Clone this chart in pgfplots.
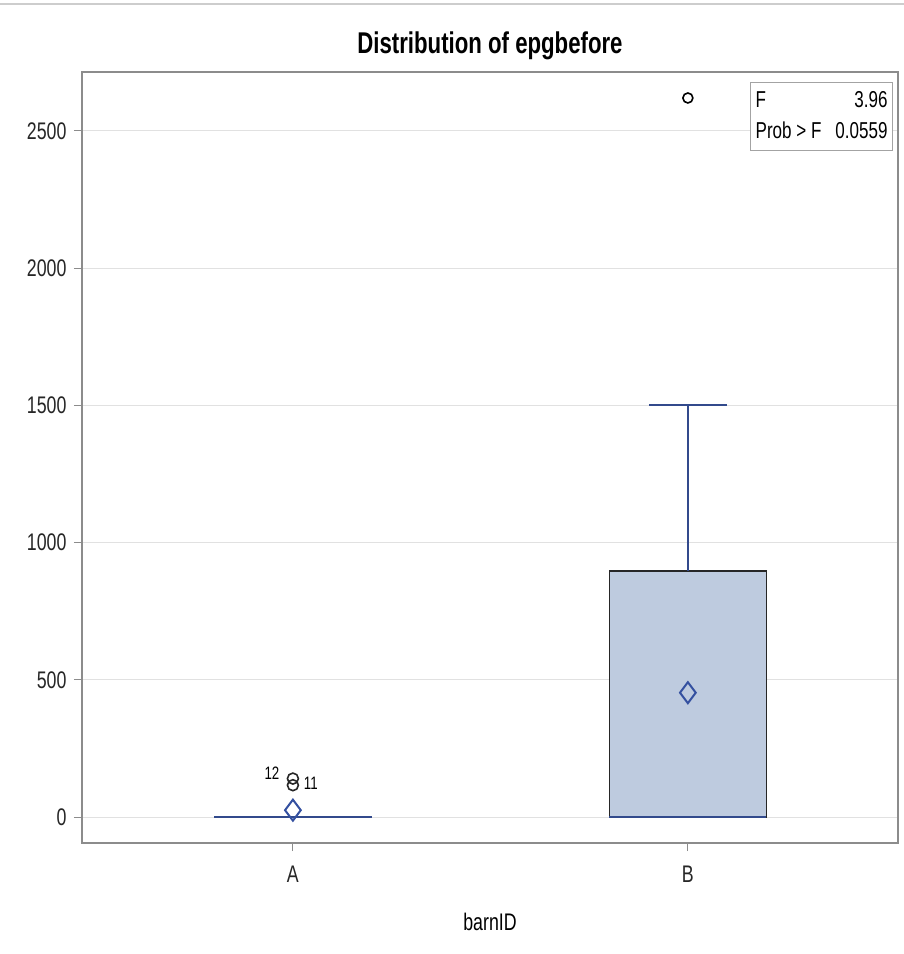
\documentclass[border=0pt]{standalone}
\usepackage{fontspec}
\setmainfont{Liberation Sans}[FakeStretch=0.74]
\usepackage{pgfplots}
\pgfplotsset{compat=1.18}
\definecolor{boxfill}{RGB}{190,203,223}
\definecolor{navy}{RGB}{50,74,140}
\definecolor{meanblue}{RGB}{52,80,160}
\definecolor{gridc}{RGB}{225,225,225}
\definecolor{framec}{RGB}{140,140,140}
\begin{document}
\begin{tikzpicture}[x=1pt,y=1pt]
\useasboundingbox (-82,-111) rectangle (822,843);
\draw[line width=1.5pt, color=gridc!80!gray] (-82,839) -- (822,839);
\begin{axis}[
  at={(0,0)}, anchor=south west,
  scale only axis, width=816pt, height=771pt,
  xmin=-0.534, xmax=1.532,
  ymin=-94.7, ymax=2714.7,
  xtick={0,1}, xticklabels={A,B},
  ytick={0,500,1000,1500,2000,2500},
  /pgf/number format/assume math mode=true,
  /pgf/number format/1000 sep={},
  ticklabel style={font=\fontsize{24}{28}\selectfont, text=black!85},
  ymajorgrids, grid style={gridc, line width=1pt},
  tick align=outside, tick pos=left,
  major tick length=8pt,
  tick style={framec, line width=1pt},
  axis line style={framec, line width=1.2pt},
  xticklabel style={yshift=-11pt},
  yticklabel style={xshift=-4pt},
  title={\bfseries Distribution of epgbefore},
  title style={font=\fontsize{30}{34}\selectfont, at={(0.5,1)}, anchor=base, yshift=12pt},
  xlabel={barnID},
  xlabel style={font=\fontsize{24}{28}\selectfont, at={(0.5,0)}, anchor=base, yshift=-87pt},
  clip=false,
]
% Box B (Q1=0, Q3=896)
\addplot[fill=boxfill, draw=black!85, line width=1.5pt] coordinates {(0.801,0) (1.199,0) (1.199,896) (0.801,896)} -- cycle;
% Median B
\addplot[navy, line width=2pt] coordinates {(0.801,0) (1.199,0)};
% Whisker B
\addplot[navy, line width=1.5pt] coordinates {(1,896) (1,1501)};
\addplot[navy, line width=1.5pt] coordinates {(0.901,1501) (1.099,1501)};
% Collapsed box A (all at 0)
\addplot[navy, line width=2pt] coordinates {(-0.199,0) (0.199,0)};
% Means
\addplot[only marks, mark=diamond, mark size=10.5pt, mark options={draw=meanblue, fill=white, line width=2pt}] coordinates {(0,25) (1,453)};
% Outliers
\addplot[only marks, mark=o, mark size=5pt, mark options={draw=black, line width=1.6pt}] coordinates {(1,2620)};
\addplot[only marks, mark=o, mark size=5.5pt, mark options={draw=black!85, line width=1.6pt},
  point meta=explicit symbolic,
  nodes near coords, every node near coord/.append style={font=\fontsize{18}{20}\selectfont, anchor=center, xshift=-21pt, yshift=5pt}]
  coordinates {(0,140) [12]};
\addplot[only marks, mark=o, mark size=5.5pt, mark options={draw=black!85, line width=1.6pt},
  point meta=explicit symbolic,
  nodes near coords, every node near coord/.append style={font=\fontsize{18}{20}\selectfont, anchor=center, xshift=18pt, yshift=2pt}]
  coordinates {(0,116) [11]};
% Inset table
\node[draw=framec!80, line width=1pt, fill=white, anchor=north east, inner xsep=5pt, inner ysep=3pt,
      font=\fontsize{23}{31}\selectfont]
  at (rel axis cs:1,1) [xshift=-5pt, yshift=-10pt]
  {\begin{tabular}{@{}l@{\hspace{14pt}}r@{}}F & 3.96\\ Prob > F & 0.0559\end{tabular}};
\end{axis}
\end{tikzpicture}
\end{document}
